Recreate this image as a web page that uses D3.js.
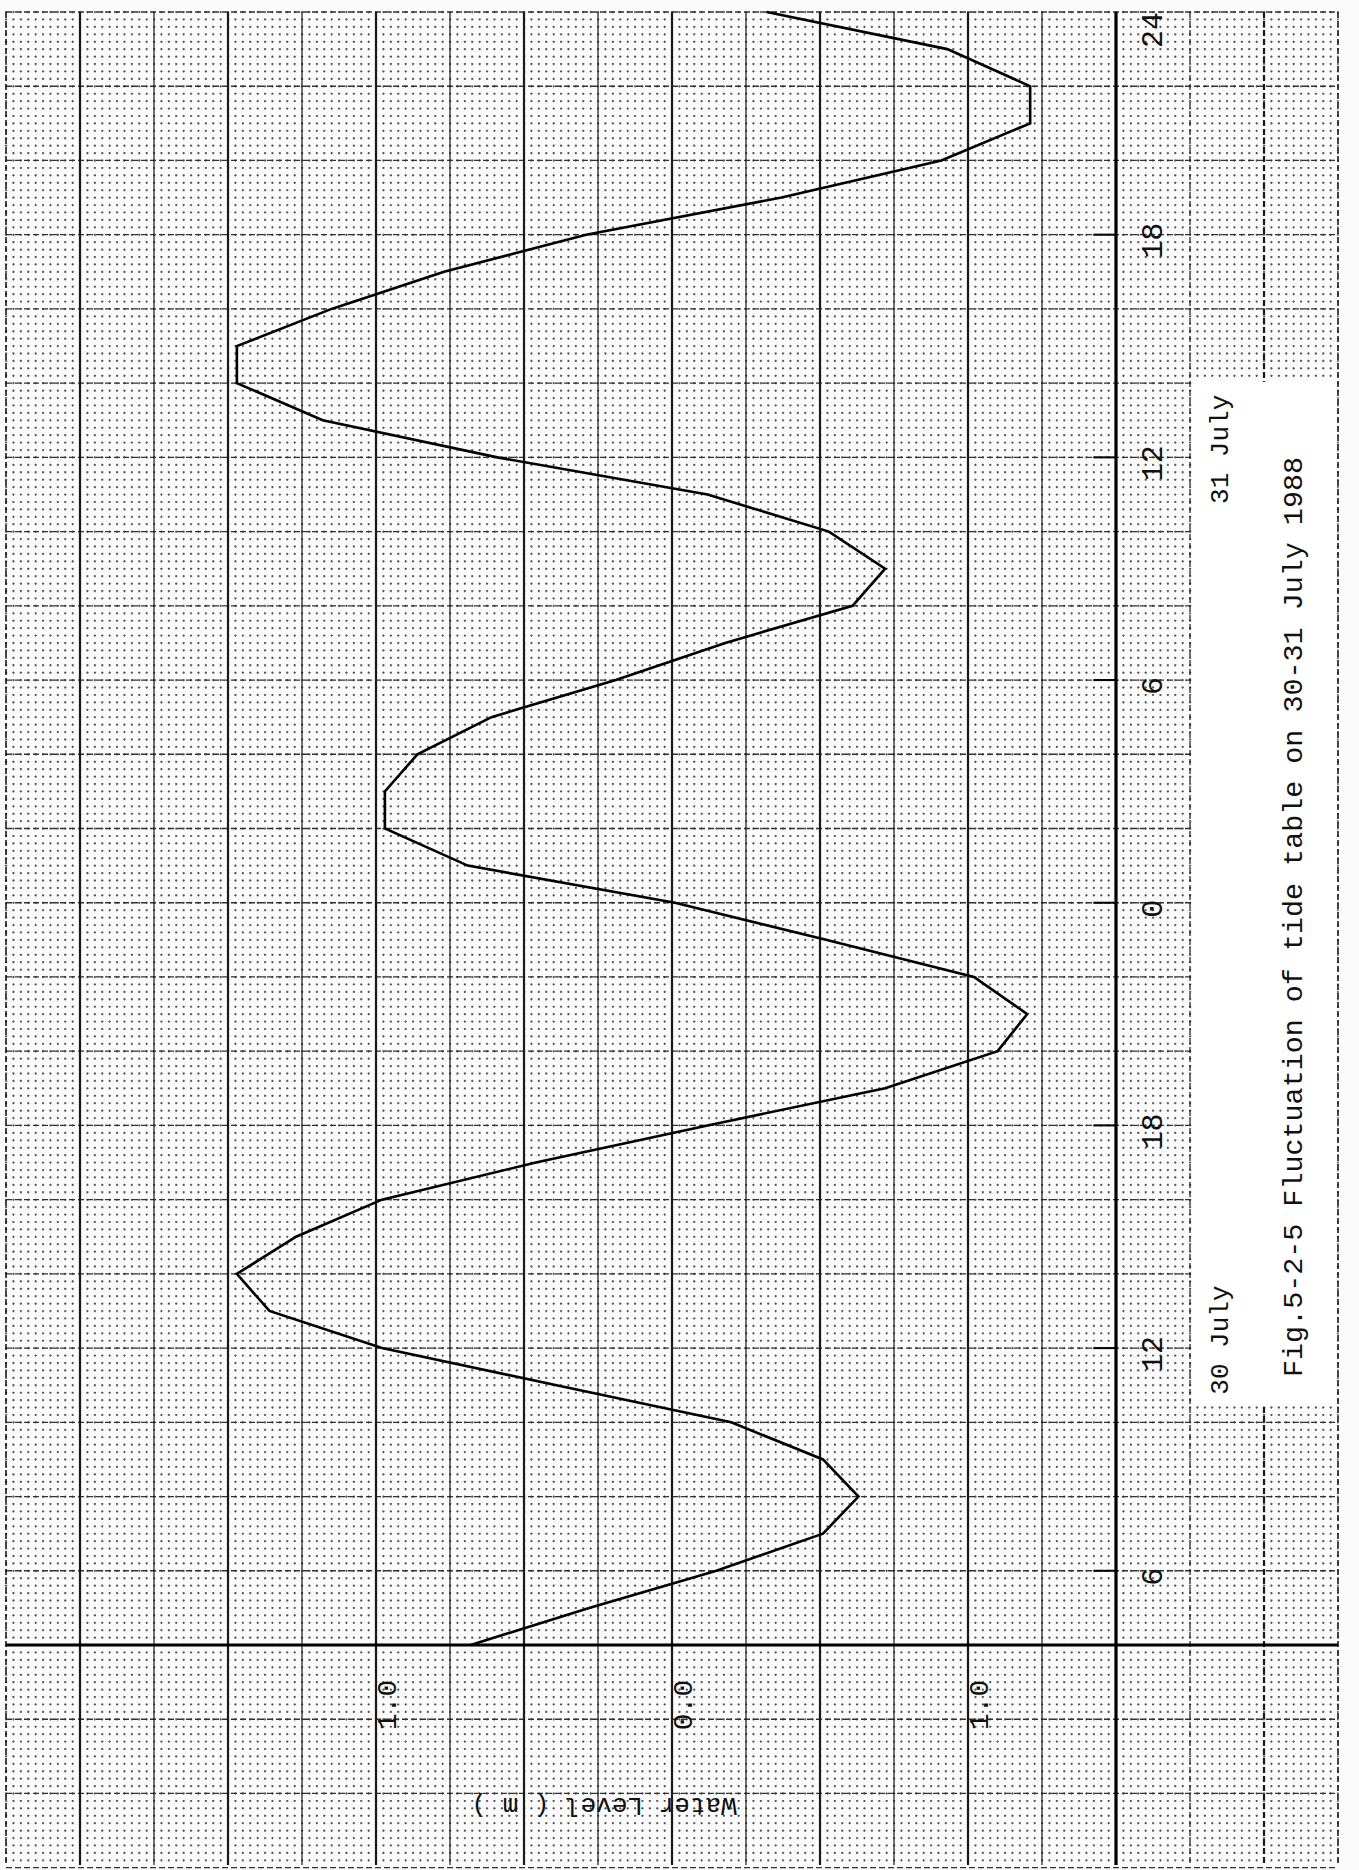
<!DOCTYPE html>
<html lang="en">
<head>
  <meta charset="UTF-8">
  <title>Fig.5-2-5 Fluctuation of tide table</title>
  <script src="https://d3js.org/d3.v7.min.js"></script>
  <style>
    body {
      margin: 0;
      background: #fff;
    }
    svg {
      display: block;
      background: #fbfbfb;
    }
    text {
      font-family: "Liberation Mono", "DejaVu Sans Mono", monospace;
      fill: #111;
    }
  </style>
</head>
<body>
  <svg width="1359" height="1870"></svg>

  <script>
    // hours counted from 00:00 on 30 July
    const hours = [4, 5, 6, 7, 8, 9, 10, 11, 12, 13, 14, 15, 16, 17, 18, 19, 20, 21, 22, 23, 24,
      25, 26, 27, 28, 29, 30, 31, 32, 33, 34, 35, 36, 37, 38, 39, 40, 41, 42, 43, 44, 45, 46, 47, 48];

    // water level (m)
    const levels = [0.68, 0.28, -0.15, -0.51, -0.63, -0.51, -0.20, 0.39, 0.98, 1.36, 1.47, 1.27,
      0.98, 0.46, -0.12, -0.72, -1.10, -1.20, -1.02, -0.52, -0.01, 0.69, 0.97, 0.97, 0.86, 0.61,
      0.19, -0.18, -0.61, -0.72, -0.53, -0.12, 0.59, 1.18, 1.47, 1.47, 1.15, 0.77, 0.29, -0.37,
      -0.91, -1.21, -1.21, -0.93, -0.32];

    const timeTicks = [6, 12, 18, 24, 30, 36, 42, 48];
    const timeTickLabels = ["6", "12", "18", "0", "6", "12", "18", "24"];
    const levelTicks = [1.0, 0.0, -1.0];
    const levelTickLabels = ["1.0", "0.0", "1.0"];
    const dayTicks = [12, 36];
    const dayLabels = ["30 July", "31 July"];
    const caption = "Fig.5-2-5 Fluctuation of tide table on 30-31 July 1988";
    const axisTitle = "Water Level ( m )";

    const svg = d3.select("svg");

    // the sheet is turned: time runs up the page, level runs across it
    const yTime = d3.scaleLinear().domain([4, 48]).range([1645, 12]);
    const xLevel = d3.scaleLinear().domain([1.0, -1.0]).range([376, 968]);

    const paperT = [-1.93, 48];
    const paperL = [2.25, -2.25];
    const axisLevel = -1.5;   // time axis sits on this line
    const x0 = xLevel(paperL[0]), x1 = xLevel(paperL[1]);
    const yTop = yTime(paperT[1]), yBot = yTime(paperT[0]);

    const grid = svg.append("g");

    // fine dotted graph-paper grid
    const fineL = d3.range(-90, 91).map(i => i * 0.025);
    const fineT = d3.range(-9, 241).map(i => i * 0.2);
    const stepY = Math.abs(yTime(0.2) - yTime(0));
    const stepX = Math.abs(xLevel(0.025) - xLevel(0));

    grid.append("g").selectAll("line")
      .data(fineL)
      .join("line")
      .attr("x1", d => xLevel(d)).attr("x2", d => xLevel(d))
      .attr("y1", yTop - 1).attr("y2", yBot)
      .attr("stroke", "#555")
      .attr("stroke-width", 1.2)
      .attr("stroke-dasharray", `2.2 ${stepY - 2.2}`);

    grid.append("g").selectAll("line")
      .data(fineT.filter(t => t >= paperT[0] && t <= paperT[1]))
      .join("line")
      .attr("x1", x0 - 1).attr("x2", x1)
      .attr("y1", d => yTime(d)).attr("y2", d => yTime(d))
      .attr("stroke", "#555")
      .attr("stroke-width", 1.2)
      .attr("stroke-dasharray", `2.2 ${stepX - 2.2}`);

    // 2-hour dashed rules
    const twoHour = d3.range(-1, 25).map(i => i * 2).filter(t => t !== 4);
    grid.append("g").selectAll("line")
      .data(twoHour)
      .join("line")
      .attr("x1", x0).attr("x2", x1)
      .attr("y1", d => yTime(d)).attr("y2", d => yTime(d))
      .attr("stroke", "#333")
      .attr("stroke-width", 1.3)
      .attr("stroke-dasharray", "6 3");

    // 0.25 m rules
    const quarter = d3.range(-9, 10).map(i => i * 0.25).filter(l => l !== axisLevel);
    grid.append("g").selectAll("line")
      .data(quarter)
      .join("line")
      .attr("x1", d => xLevel(d)).attr("x2", d => xLevel(d))
      .attr("y1", yTop).attr("y2", yBot)
      .attr("stroke", "#1a1a1a")
      .attr("stroke-width", d => (Math.abs(d) > 2.2 ? 1.6 : (Math.round(d * 4) % 2 === 0 ? 2.2 : 1.2)))
      .attr("stroke-dasharray", d => (d < axisLevel || d > 2.2 ? "6 3" : null));

    // caption panel
    svg.append("rect")
      .attr("x", xLevel(-1.75) + 2)
      .attr("y", 382)
      .attr("width", xLevel(-2.25) - xLevel(-1.75) - 3)
      .attr("height", 1022)
      .attr("fill", "#fff");

    // main axes
    svg.append("line")
      .attr("x1", xLevel(axisLevel)).attr("x2", xLevel(axisLevel))
      .attr("y1", yTop).attr("y2", yBot)
      .attr("stroke", "#000").attr("stroke-width", 3.2);

    svg.append("line")
      .attr("x1", x0).attr("x2", x1)
      .attr("y1", yTime(4)).attr("y2", yTime(4))
      .attr("stroke", "#000").attr("stroke-width", 3.2);

    // six-hour ticks
    svg.append("g").selectAll("line")
      .data(timeTicks.slice(0, -1))
      .join("line")
      .attr("x1", xLevel(axisLevel) - 22).attr("x2", xLevel(axisLevel))
      .attr("y1", d => yTime(d)).attr("y2", d => yTime(d))
      .attr("stroke", "#000").attr("stroke-width", 2);

    // tide curve
    const line = d3.line()
      .x(d => xLevel(d[1]))
      .y(d => yTime(d[0]));

    svg.append("path")
      .datum(hours.map((h, i) => [h, levels[i]]))
      .attr("d", line)
      .attr("fill", "none")
      .attr("stroke", "#000")
      .attr("stroke-width", 2.6)
      .attr("stroke-linejoin", "miter");

    // time labels
    svg.append("g").selectAll("text")
      .data(timeTicks)
      .join("text")
      .attr("transform", d => `translate(${xLevel(axisLevel) + 46},${Math.max(yTime(d) + 6, 30)}) rotate(-90)`)
      .attr("text-anchor", "middle")
      .attr("font-size", 30)
      .text((d, i) => timeTickLabels[i]);

    // day labels
    svg.append("g").selectAll("text")
      .data(dayTicks)
      .join("text")
      .attr("transform", d => `translate(${xLevel(axisLevel) + 112},${yTime(d) - 8}) rotate(-90)`)
      .attr("text-anchor", "middle")
      .attr("font-size", 26)
      .text((d, i) => dayLabels[i]);

    // level labels
    svg.append("g").selectAll("text")
      .data(levelTicks)
      .join("text")
      .attr("transform", d => `translate(${xLevel(d) + 20},${yTime(4) + 60}) rotate(-90)`)
      .attr("text-anchor", "middle")
      .attr("font-size", 28)
      .text((d, i) => levelTickLabels[i]);

    // axis title, upside down as on the turned sheet
    svg.append("text")
      .attr("transform", `translate(${xLevel(0) - 68},${1798}) rotate(180)`)
      .attr("text-anchor", "middle")
      .attr("font-size", 26)
      .text(axisTitle);

    // figure caption
    svg.append("text")
      .attr("transform", `translate(${xLevel(-2.0) + 38},${917}) rotate(-90)`)
      .attr("text-anchor", "middle")
      .attr("font-size", 28.4)
      .text(caption);
  </script>
</body>
</html>
